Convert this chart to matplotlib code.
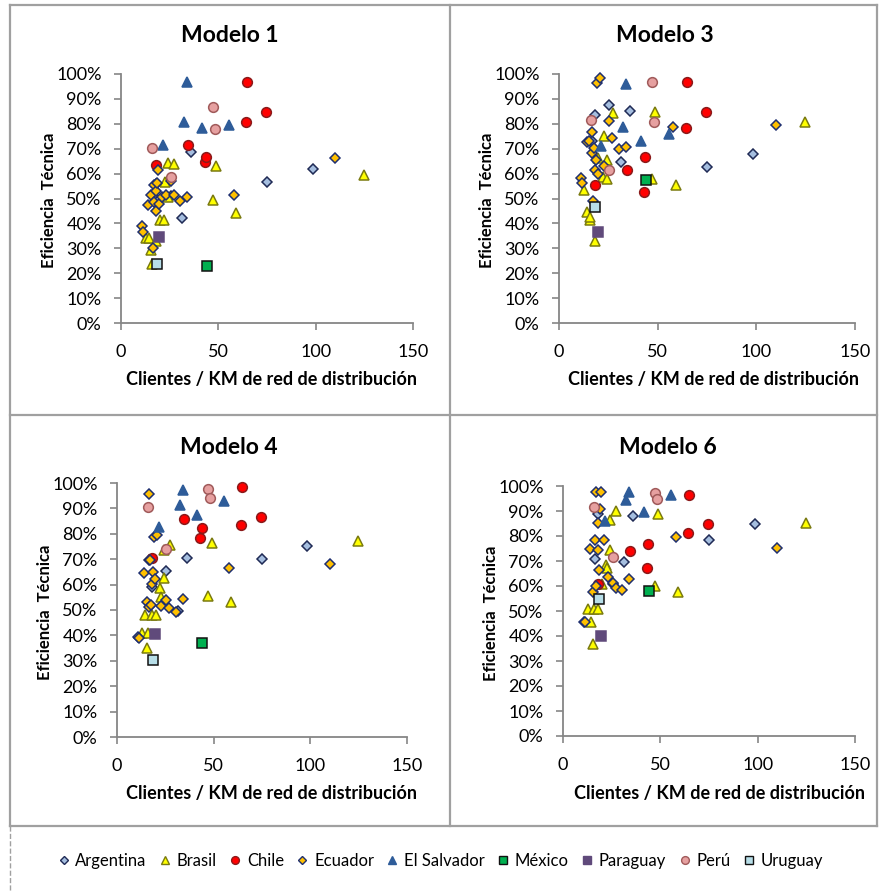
import matplotlib
matplotlib.use("Agg")
import matplotlib.pyplot as plt
from matplotlib.lines import Line2D
from matplotlib.ticker import FuncFormatter

plt.rcParams['font.family'] = ['Lato', 'DejaVu Sans']

modelos = ['Modelo 1', 'Modelo 3', 'Modelo 4', 'Modelo 6']

# clientes / km de red, una entrada por empresa
x_argentina = [16.5, 18, 25.5, 31.5, 36, 75, 98.5]
x_brasil = [12.7, 14.4, 15.5, 15.8, 18, 20, 22.3, 22.6, 24.3, 24.4, 27.4, 47.2, 48.9, 59.1, 124.7]
x_chile = [18, 34.5, 43, 43.8, 64.2, 64.7, 74.5]
x_ecuador = [11, 11.5, 14, 15.4, 16.5, 16.8, 17.1, 17.8, 18.2, 18.6, 19.2, 19.6, 20.9, 23, 25.5, 27, 30.5, 34, 57.8, 110]
x_salvador = [21.5, 32.5, 34, 41.5, 55.5]
x_mexico = [44]
x_paraguay = [19.7]
x_peru = [16, 25.5, 47.2, 48.3]
x_uruguay = [18.4]

# eficiencia tecnica (%) por modelo: M1, M3, M4, M6
ef_argentina = [[51, 56, 51, 42, 68.5, 56.5, 62],
                [72.9, 83.6, 87.6, 64.6, 85, 62.8, 68],
                [69.7, 59.2, 65.5, 49.5, 70.4, 70, 75.1],
                [71, 89, 61, 69.5, 88, 78.3, 84.7]]
ef_brasil = [[34, 34, 29.3, 23.5, 32.8, 41.4, 41.4, 56.7, 64.4, 50.8, 63.9, 49.4, 63.1, 44.1, 59.5],
             [53.3, 44.7, 41.5, 42.7, 32.8, 66.1, 58.7, 75.3, 65.5, 57.7, 84.2, 57.8, 84.9, 55.5, 80.9],
             [40.8, 48, 34.9, 40.8, 48, 48, 58.5, 55.2, 62.5, 73.5, 75.5, 55.7, 76.3, 53, 77],
             [51, 45.6, 36.7, 51, 51, 61, 68.4, 67.1, 74.4, 86.4, 90, 60, 88.9, 57.6, 85.2]]
ef_chile = [[63.4, 71.3, 64.6, 66.6, 80.6, 96.9, 84.9],
            [55.5, 61.5, 52.5, 66.8, 78.3, 96.9, 84.9],
            [70.4, 85.8, 78.2, 82.2, 83.6, 98.4, 86.8],
            [60.9, 74, 67.3, 76.9, 81.2, 96.3, 84.7]]
ef_ecuador = [[39, 36.4, 47.2, 51.5, 30.3, 55.5, 48.7, 53.1, 44.8, 56.1, 61.5, 47.7, 50.7, 51.5, 57.2, 51.4, 48.8, 50.8, 51.5, 66.4],
              [58.2, 56.1, 72.5, 72.9, 76.6, 68.2, 49.1, 70.2, 61.5, 65.5, 96.3, 60, 98.3, 63, 81.3, 74.2, 69.7, 70.6, 78.9, 79.5],
              [39.5, 38.9, 64.4, 53.3, 51, 95.7, 69.7, 52, 60.3, 65.1, 78.9, 62.1, 79.5, 51.6, 53.9, 50.7, 49.3, 54.2, 66.4, 68],
              [45.7, 45.5, 75, 57.7, 78.4, 97.7, 60.1, 74.4, 85.1, 66.4, 91, 97.7, 78.4, 63.7, 61.1, 59.1, 58.4, 62.7, 79.6, 75.3]]
ef_salvador = [[71.5, 80.6, 96.9, 78.2, 79.5],
               [70.9, 78.6, 95.9, 72.9, 75.9],
               [82.6, 91.2, 97.1, 87.5, 92.8],
               [86, 94.5, 97.6, 89.6, 96.3]]
ef_mexico = [[23], [57.5], [37.2], [57.9]]
ef_paraguay = [[34.5], [36.4], [40.4], [40]]
ef_peru = [[70.1, 58.6, 86.6, 77.8],
           [81.4, 61.5, 96.9, 80.9],
           [90.7, 74.1, 97.6, 94.1],
           [91.6, 71.6, 97.3, 95]]
ef_uruguay = [[23.7], [46.7], [30.3], [54.8]]

paises = [
    ('Argentina', x_argentina, ef_argentina, 'D', 5.0, '#A5BEDF', '#1F2A55'),
    ('Brasil', x_brasil, ef_brasil, '^', 7.0, '#FFFF00', '#7A7A10'),
    ('Chile', x_chile, ef_chile, 'o', 7.0, '#FF0000', '#8B1A1A'),
    ('Ecuador', x_ecuador, ef_ecuador, 'D', 5.0, '#FFC000', '#1F2F6F'),
    ('El Salvador', x_salvador, ef_salvador, '^', 7.5, '#2E5C99', '#2E5C99'),
    ('México', x_mexico, ef_mexico, 's', 7.0, '#00B050', '#111111'),
    ('Paraguay', x_paraguay, ef_paraguay, 's', 7.5, '#604A7B', '#604A7B'),
    ('Perú', x_peru, ef_peru, 'o', 7.0, '#E6A0A0', '#A05A5A'),
    ('Uruguay', x_uruguay, ef_uruguay, 's', 7.0, '#B7DEE8', '#111111'),
]

W, H = 881, 892
fig = plt.figure(figsize=(W / 100, H / 100), dpi=100)

# (left, right, top, bottom) en pixeles
cajas = [(121, 413, 74, 323), (559, 855, 74, 323), (117, 407, 483, 737), (563, 855, 486, 736)]
titulo_xy = [(230, 35), (665, 35), (229, 448), (668, 448)]
xlabel_xy = [(272, 379), (714, 379), (271, 793), (719, 793)]

gris = '#868686'
pct = FuncFormatter(lambda v, p: '%d%%' % round(v * 100))

for k, nombre in enumerate(modelos):
    l, r, t, b = cajas[k]
    ax = fig.add_axes([l / W, 1 - b / H, (r - l) / W, (b - t) / H])
    for pais, xs, efs, mk, ms, fc, ec in paises:
        ax.plot(xs, [e / 100 for e in efs[k]], linestyle='none', marker=mk, markersize=ms,
                markerfacecolor=fc, markeredgecolor=ec, markeredgewidth=1.1, clip_on=False)
    ax.set_xlim(0, 150)
    ax.set_ylim(0, 1)
    ax.set_xticks([0, 50, 100, 150])
    ax.set_yticks([i / 10 for i in range(11)])
    ax.yaxis.set_major_formatter(pct)
    for s in ['top', 'right']:
        ax.spines[s].set_visible(False)
    for s in ['left', 'bottom']:
        ax.spines[s].set_color(gris)
        ax.spines[s].set_linewidth(1.3)
    ax.tick_params(direction='out', length=5, width=1.2, color=gris, labelsize=13)
    ax.tick_params(axis='y', pad=9)
    ax.tick_params(axis='x', pad=10)
    ax.patch.set_alpha(0)
    tx, ty = titulo_xy[k]
    fig.text(tx / W, 1 - ty / H, nombre, ha='center', va='center', fontsize=16.5, fontweight='bold')
    lx, ly = xlabel_xy[k]
    fig.text(lx / W, 1 - ly / H, 'Clientes / KM de red de distribución',
             ha='center', va='center', fontsize=13, fontweight='bold')
    fig.text((l - 72) / W, 1 - ((t + b) / 2 + 2) / H, 'Eficiencia  Técnica', rotation=90,
             ha='center', va='center', fontsize=12, fontweight='bold')

# marcos entre paneles
def linea(x0, y0, x1, y1, lw=1.6, ls='-'):
    fig.add_artist(Line2D([x0 / W, x1 / W], [1 - y0 / H, 1 - y1 / H], color='#A0A0A0', lw=lw, ls=ls))

linea(10, 5, 877, 5)
linea(10, 5, 10, 826)
linea(877, 5, 877, 826)
linea(450, 5, 450, 826)
linea(10, 415, 877, 415)
linea(10, 826, 877, 826)
linea(10, 826, 10, 892, lw=1.0, ls='--')

handles = [Line2D([], [], linestyle='none', marker=mk, markersize=ms * 0.8,
                  markerfacecolor=fc, markeredgecolor=ec, markeredgewidth=1.0)
           for pais, xs, efs, mk, ms, fc, ec in paises]
fig.legend(handles, [p[0] for p in paises], loc='center', bbox_to_anchor=(440 / W, 1 - 861 / H),
           ncol=9, frameon=False, fontsize=12, handlelength=0.8, handletextpad=0.3,
           columnspacing=0.7)

fig.savefig('out.png', dpi=100)
